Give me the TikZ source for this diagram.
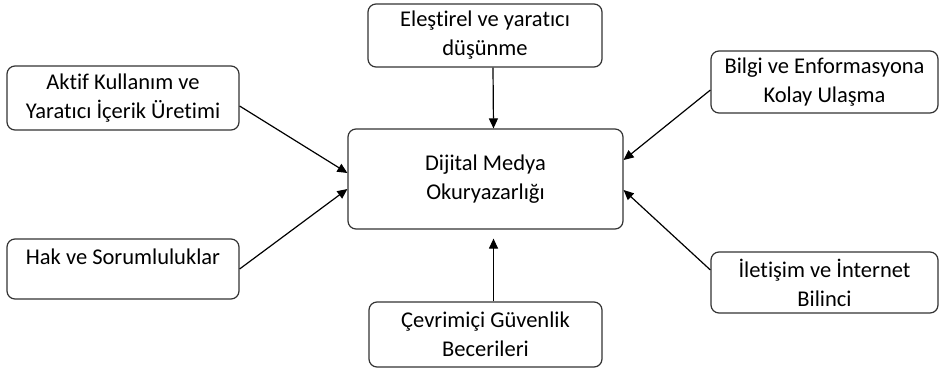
\documentclass[tikz,border=0pt]{standalone}
\usepackage{fontspec}
\setmainfont{Carlito}[Ligatures=NoCommon]
\usepackage{tikz}
\usetikzlibrary{positioning,arrows.meta}

\begin{document}
\begin{tikzpicture}[x=1pt, y=-1pt,
  box/.style={draw=black!80, line width=1.2pt, rounded corners=8pt, align=center,
    inner sep=0pt, font=\fontsize{22.5}{29}\selectfont},
  arr/.style={line width=1.2pt, -{Triangle[length=10pt,width=9pt]}}]
\useasboundingbox (0,0) rectangle (940,370);
\node[box, minimum width=234pt, minimum height=63pt]  (top) at (485,35.5)  {Eleştirel ve yaratıcı\\ düşünme};
\node[box, minimum width=275pt, minimum height=100pt] (cen) at (485.5,179) {Dijital Medya\\ Okuryazarlığı};
\node[box, minimum width=232pt, minimum height=64pt]  (lt)  at (123,98)    {Aktif Kullanım ve\\ Yaratıcı İçerik Üretimi};
\node[box, minimum width=232pt, minimum height=60pt, text depth=24pt] (lb) at (123,269) {Hak ve Sorumluluklar};
\node[box, minimum width=227pt, minimum height=62pt]  (rt)  at (824.5,82)  {Bilgi ve Enformasyona\\ Kolay Ulaşma};
\node[box, minimum width=227pt, minimum height=61pt]  (rb)  at (824.5,282.5) {İletişim ve İnternet\\ Bilinci};
\node[box, minimum width=233pt, minimum height=65pt]  (bot) at (485.5,334.5) {Çevrimiçi Güvenlik\\ Becerileri};
% arrows into the center
\draw[arr] ([xshift=8pt]top.south) -- ([xshift=8pt]cen.north);
\draw[arr] ([xshift=8pt]bot.north) -- ([xshift=8pt,yshift=-9pt]cen.south);
\draw[arr] ([yshift=-8pt]lt.east) -- ([yshift=6pt]cen.west);
\draw[arr] (lb.east) -- ([yshift=-10pt]cen.west);
\draw[arr] ([yshift=-8pt]rt.west) -- ([yshift=19pt]cen.east);
\draw[arr] ([yshift=12.5pt]rb.west) -- ([yshift=-11pt]cen.east);
\end{tikzpicture}
\end{document}
